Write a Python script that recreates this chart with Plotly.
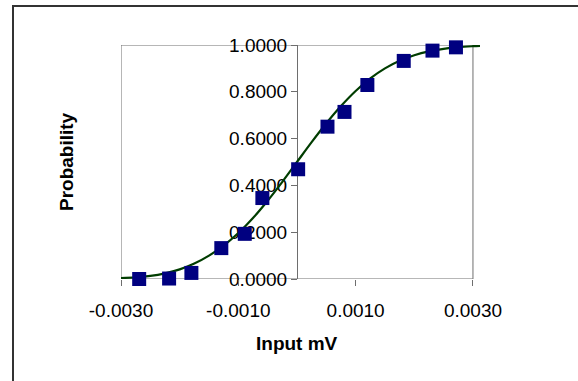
import plotly.graph_objects as go

# ---- data ----
input_mv = [-0.00269, -0.00218, -0.00180, -0.00129, -0.00089, -0.00059, 0.00002,
            0.00052, 0.00081, 0.00120, 0.00182, 0.00231, 0.00271]
probability = [0.000, 0.002, 0.026, 0.132, 0.193, 0.346, 0.469,
               0.651, 0.714, 0.829, 0.932, 0.976, 0.990]

fit_x = [-0.00300, -0.00275, -0.00250, -0.00225, -0.00200, -0.00175, -0.00150,
         -0.00125, -0.00100, -0.00075, -0.00050, -0.00025, 0.00000, 0.00025,
         0.00050, 0.00075, 0.00100, 0.00125, 0.00150, 0.00175, 0.00200,
         0.00225, 0.00250, 0.00275, 0.00300, 0.00312]
fit_y = [0.0040, 0.0070, 0.0130, 0.0240, 0.0410, 0.0660, 0.1000,
         0.1427, 0.1963, 0.2608, 0.3346, 0.4153, 0.5000, 0.5847,
         0.6654, 0.7392, 0.8037, 0.8573, 0.9001, 0.9327, 0.9563,
         0.9728, 0.9837, 0.9906, 0.9948, 0.9962]

x_tick_vals = [-0.003, -0.001, 0.001, 0.003]
x_tick_text = ["-0.0030", "-0.0010", "0.0010", "0.0030"]
y_tick_vals = [0.0, 0.2, 0.4, 0.6, 0.8, 1.0]

# ---- layout geometry (page pixels; body margin removed below) ----
W, H = 578, 381
PLOT_LEFT, PLOT_TOP = 121, 45          # where the plot area sits on the page
PW, PH = 359, 234
L, T = PLOT_LEFT, PLOT_TOP
R, B = W - L - PW, H - T - PH
X_MIN, X_MAX = -0.003, 0.00312
Y_MIN, Y_MAX = 0.0, 1.0


def px_x(px):
    return (px - PLOT_LEFT) / PW


def px_y(py):
    return (PLOT_TOP + PH - py) / PH


FONT = "Liberation Sans, Arial, sans-serif"
AXIS_COLOR = "#6e6e6e"

fig = go.Figure()
fig.add_trace(go.Scatter(
    x=fit_x, y=fit_y, mode="lines",
    line=dict(color="#003d00", width=2.2, shape="spline"),
    hoverinfo="skip", showlegend=False,
))
fig.add_trace(go.Scatter(
    x=input_mv, y=probability, mode="markers",
    marker=dict(symbol="square", size=14, color="#000080",
                line=dict(width=0)),
    cliponaxis=False, showlegend=False,
))

fig.update_layout(
    width=W, height=H,
    margin=dict(l=L, r=R, t=T, b=B, pad=0),
    paper_bgcolor="white", plot_bgcolor="white",
    font=dict(family=FONT, size=19, color="black"),
    showlegend=False,
    xaxis=dict(
        range=[X_MIN, X_MAX], tickvals=x_tick_vals, ticktext=x_tick_text,
        ticks="outside", ticklen=6, tickcolor=AXIS_COLOR, tickwidth=1,
        ticklabelstandoff=8,
        showline=False, showgrid=False, zeroline=False,
        tickfont=dict(family=FONT, size=19, color="black"),
    ),
    yaxis=dict(
        range=[Y_MIN, Y_MAX], tickvals=y_tick_vals, tickformat=".4f",
        anchor="free", position=(0 - X_MIN) / (X_MAX - X_MIN),
        ticks="outside", ticklen=6, tickcolor=AXIS_COLOR, tickwidth=1,
        showline=True, linecolor=AXIS_COLOR, linewidth=1,
        showgrid=False, zeroline=False, layer="below traces",
        tickfont=dict(family=FONT, size=19, color="black"),
    ),
)

# plot-area border (also serves as the x axis line)
fig.add_shape(type="rect", xref="x", yref="y", x0=-0.003, x1=0.003,
              y0=Y_MIN, y1=Y_MAX, line=dict(color=AXIS_COLOR, width=1),
              layer="below")
# chart-area border
fig.add_shape(type="rect", xref="paper", yref="paper",
              x0=px_x(13), x1=px_x(640), y0=px_y(440), y1=px_y(6),
              line=dict(color="#333333", width=2), layer="above")

fig.add_annotation(text="<b>Probability</b>", xref="paper", yref="paper",
                   x=px_x(66), y=px_y(162), showarrow=False, textangle=-90,
                   xanchor="center", yanchor="middle",
                   font=dict(family=FONT, size=19, color="black"))
fig.add_annotation(text="<b>Input mV</b>", xref="paper", yref="paper",
                   x=px_x(297), y=px_y(343), showarrow=False,
                   xanchor="center", yanchor="middle",
                   font=dict(family=FONT, size=19, color="black"))

fig.write_html("out.html",
               config={"displayModeBar": False},
               post_script="document.body.style.margin='0';")
